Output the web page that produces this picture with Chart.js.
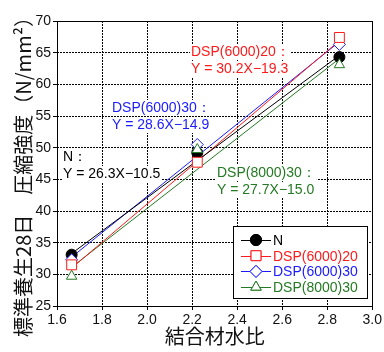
<!DOCTYPE html>
<html>
<head>
<meta charset="utf-8">
<script src="https://cdn.jsdelivr.net/npm/chart.js@4/dist/chart.umd.min.js"></script>
<style>
  html, body { margin: 0; padding: 0; background: #fff; }
  #wrap { width: 384px; height: 352px; }
</style>
</head>
<body>
<div id="wrap"><canvas id="chart" width="384" height="352"></canvas></div>
<script>
// binder/water ratio vs 28-day compressive strength
var ratios = [1.665, 2.223, 2.854];
var seriesNames = ['N', 'DSP(6000)20', 'DSP(6000)30', 'DSP(8000)30'];
var strengthN = [33.1, 49.2, 64.3];
var strength6020 = [31.5, 47.7, 67.4];
var strength6030 = [32.3, 50.5, 66.3];
var strength8030 = [29.7, 49.7, 63.1];
// fitted lines: Y = a X + b
var slopes = [26.3, 30.2, 28.6, 27.7];
var intercepts = [-10.5, -19.3, -14.9, -15.0];
var xTicks = [1.6, 1.8, 2.0, 2.2, 2.4, 2.6, 2.8, 3.0];
var yTicks = [25, 30, 35, 40, 45, 50, 55, 60, 65, 70];
var yTitle = '標準養生28日　圧縮強度（N/mm²）';

var colors = ['#000000', '#ff1a1a', '#1a1aff', '#237a23'];
var shapes = ['circle', 'rect', 'rectRot', 'triangle'];
var radii = [5.5, 7, 6, 6];
var fills = ['#000000', '#ffffff', '#ffffff', '#ffffff'];
var values = [strengthN, strength6020, strength6030, strength8030];

var FONT = '"Liberation Sans", Arial, sans-serif';
var JP = '"Noto Sans CJK JP", "Liberation Sans", sans-serif';

var datasets = [];
seriesNames.forEach(function(name, i) {
    var x0 = ratios[0], x1 = ratios[ratios.length - 1];
    datasets.push({
        label: name + ' fit',
        data: [{x: x0, y: slopes[i] * x0 + intercepts[i]}, {x: x1, y: slopes[i] * x1 + intercepts[i]}],
        showLine: true,
        borderColor: colors[i],
        borderWidth: 1,
        pointRadius: 0,
        order: 10 + i
    });
    datasets.push({
        label: name,
        data: ratios.map(function(x, k) { return {x: x, y: values[i][k]}; }),
        showLine: false,
        pointStyle: shapes[i],
        pointRadius: radii[i],
        pointBorderWidth: 1,
        pointBorderColor: colors[i],
        pointBackgroundColor: fills[i],
        order: [4, 1, 3, 2][i]
    });
});

// equation labels, pixel anchors (left, first-line middle)
var notes = [
    {lines: ['DSP(6000)20：', 'Y = 30.2X\u221219.3'], color: colors[1], x: 191, y: 52},
    {lines: ['DSP(6000)30：', 'Y = 28.6X\u221214.9'], color: colors[2], x: 112, y: 108},
    {lines: ['N：', 'Y = 26.3X\u221210.5'], color: colors[0], x: 63, y: 157},
    {lines: ['DSP(8000)30：', 'Y = 27.7X\u221215.0'], color: colors[3], x: 217, y: 173}
];

var decor = {
    id: 'decor',
    beforeDatasetsDraw: function(chart) {
        var ctx = chart.ctx;
        ctx.save();
        ctx.font = '14px ' + FONT;
        ctx.textBaseline = 'middle';
        notes.forEach(function(n) {
            n.lines.forEach(function(t, k) {
                var w = ctx.measureText(t).width;
                var y = n.y + k * 17;
                ctx.fillStyle = '#fff';
                ctx.fillRect(n.x - 1, y - 8, w + 2, 16);
                ctx.fillStyle = n.color;
                ctx.fillText(t, n.x, y);
            });
        });
        ctx.restore();
    },
    afterDraw: function(chart) {
        var ctx = chart.ctx, a = chart.chartArea;
        ctx.save();
        ctx.strokeStyle = '#000';
        ctx.lineWidth = 1;
        ctx.strokeRect(Math.round(a.left) + 0.5, Math.round(a.top) + 0.5,
            Math.round(a.right - a.left), Math.round(a.bottom - a.top));

        // rotated y-axis title
        ctx.save();
        ctx.translate(23, 172);
        ctx.rotate(-Math.PI / 2);
        ctx.font = '20px ' + JP;
        ctx.fillStyle = '#111';
        ctx.textAlign = 'center';
        ctx.textBaseline = 'middle';
        ctx.fillText(yTitle, 0, 0);
        ctx.restore();

        // legend box
        var lx = 233, ly = 226, lw = 134, lh = 72;
        ctx.fillStyle = '#fff';
        ctx.fillRect(lx, ly, lw, lh);
        ctx.strokeRect(lx + 0.5, ly + 0.5, lw, lh);
        ctx.font = '14px ' + FONT;
        ctx.textBaseline = 'middle';
        seriesNames.forEach(function(name, i) {
            var y = ly + 14 + i * 15.7;
            ctx.strokeStyle = colors[i];
            ctx.beginPath();
            ctx.moveTo(lx + 8, Math.round(y) + 0.5);
            ctx.lineTo(lx + 38, Math.round(y) + 0.5);
            ctx.stroke();
            ctx.fillStyle = fills[i];
            Chart.helpers.drawPoint(ctx, {pointStyle: shapes[i], radius: radii[i], borderWidth: 1}, lx + 23, y);
            ctx.fill();
            ctx.stroke();
            ctx.fillStyle = colors[i];
            ctx.fillText(name, lx + 40, y + 1);
        });
        ctx.restore();
    }
};

new Chart(document.getElementById('chart'), {
    type: 'scatter',
    data: {datasets: datasets},
    options: {
        responsive: false,
        animation: false,
        layout: {padding: {top: 21, right: 11, left: 0, bottom: 0}},
        plugins: {legend: {display: false}, tooltip: {enabled: false}},
        scales: {
            x: {
                type: 'linear', min: 1.6, max: 3.0,
                afterBuildTicks: function(s) { s.ticks = xTicks.map(function(v) { return {value: v}; }); },
                afterFit: function(s) { s.height = 46; },
                grid: {color: '#000', lineWidth: 1, tickLength: 4},
                border: {display: false, dash: [2, 1]},
                ticks: {color: '#111', font: {family: FONT, size: 14}, padding: 2,
                    callback: function(v) { return v.toFixed(1); }},
                title: {display: true, text: '結合材水比', color: '#111',
                    font: {family: JP, size: 20}, padding: {top: 0}}
            },
            y: {
                type: 'linear', min: 25, max: 70,
                afterBuildTicks: function(s) { s.ticks = yTicks.map(function(v) { return {value: v}; }); },
                afterFit: function(s) { s.width = 57; },
                grid: {color: '#000', lineWidth: 1, tickLength: 4},
                border: {display: false, dash: [2, 1]},
                ticks: {color: '#111', font: {family: FONT, size: 14}, padding: 2}
            }
        }
    },
    plugins: [decor]
});
</script>
</body>
</html>
